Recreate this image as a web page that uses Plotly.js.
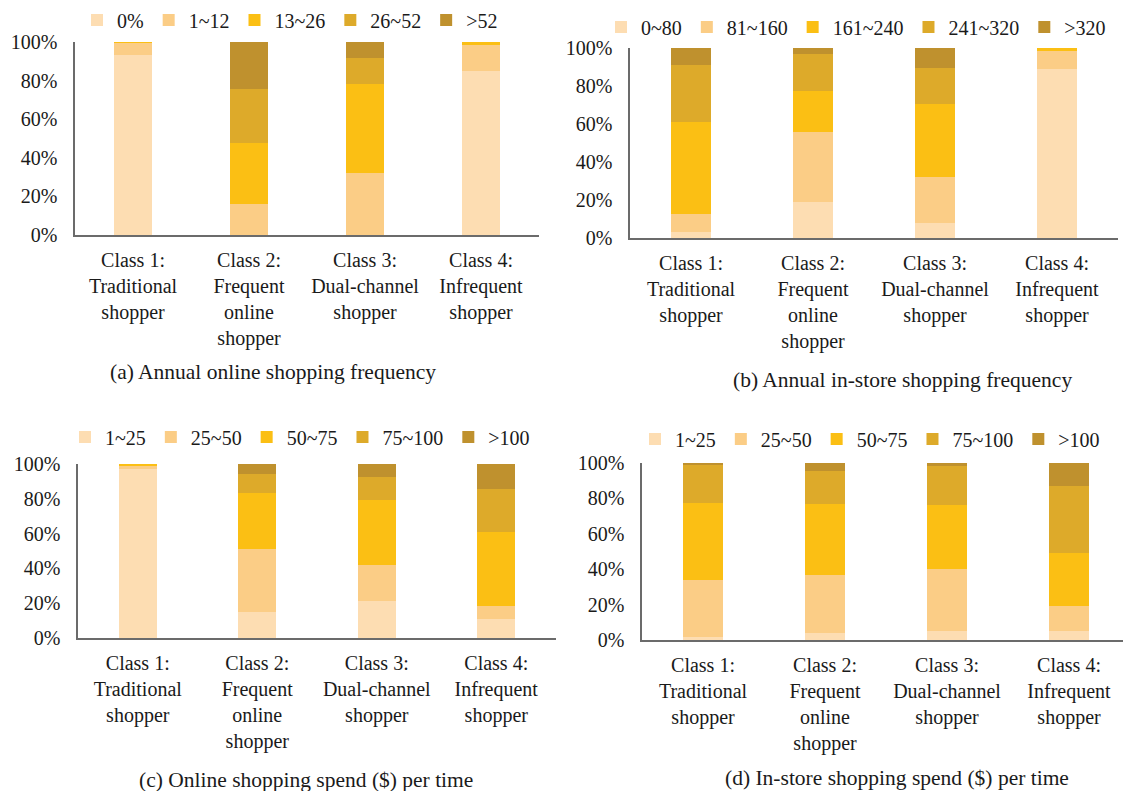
<!DOCTYPE html>
<html>
<head>
<meta charset="utf-8">
<script src="https://cdn.plot.ly/plotly-3.0.1.min.js"></script>
<style>
  html, body { margin: 0; padding: 0; background: #fff; }
  #chart { width: 1123px; height: 791px; }
</style>
</head>
<body>
<div id="chart"></div>
<script>
// Shopper classes shown on every panel
const classLabels = [
  'Class 1:<br>Traditional<br>shopper',
  'Class 2:<br>Frequent<br>online<br>shopper',
  'Class 3:<br>Dual-channel<br>shopper',
  'Class 4:<br>Infrequent<br>shopper'
];

// (a) Annual online shopping frequency, share of each class (%)
const onlineFreqBins = ['0%', '1~12', '13~26', '26~52', '>52'];
const onlineFreq_0     = [93.5, 0.0, 0.0, 84.9];
const onlineFreq_1_12  = [5.8, 16.0, 32.2, 13.7];
const onlineFreq_13_26 = [0.7, 31.8, 45.8, 1.4];
const onlineFreq_26_52 = [0.0, 28.1, 13.7, 0.0];
const onlineFreq_gt52  = [0.0, 24.1, 8.3, 0.0];

// (b) Annual in-store shopping frequency (%)
const storeFreqBins = ['0~80', '81~160', '161~240', '241~320', '>320'];
const storeFreq_0_80    = [3.0, 19.1, 7.7, 89.1];
const storeFreq_81_160  = [9.6, 36.5, 24.2, 9.1];
const storeFreq_161_240 = [48.4, 21.8, 38.8, 1.8];
const storeFreq_241_320 = [29.9, 19.6, 18.6, 0.0];
const storeFreq_gt320   = [9.1, 3.0, 10.7, 0.0];

// (c) Online shopping spend ($) per time (%)
const spendBins = ['1~25', '25~50', '50~75', '75~100', '>100'];
const onlineSpend_1_25   = [97.1, 15.1, 21.4, 11.1];
const onlineSpend_25_50  = [1.8, 36.0, 20.6, 7.4];
const onlineSpend_50_75  = [1.1, 32.3, 37.2, 42.2];
const onlineSpend_75_100 = [0.0, 10.7, 13.2, 24.8];
const onlineSpend_gt100  = [0.0, 5.9, 7.6, 14.5];

// (d) In-store shopping spend ($) per time (%)
const storeSpend_1_25   = [1.5, 3.9, 5.1, 4.9];
const storeSpend_25_50  = [32.3, 32.6, 35.1, 14.1];
const storeSpend_50_75  = [43.8, 40.6, 36.3, 30.2];
const storeSpend_75_100 = [21.1, 18.4, 21.6, 37.8];
const storeSpend_gt100  = [1.3, 4.5, 1.9, 13.0];

const panelCaptions = [
  '(a) Annual online shopping frequency',
  '(b) Annual in-store shopping frequency',
  '(c) Online shopping spend ($) per time',
  '(d) In-store shopping spend ($) per time'
];

// Five-step palette from pale peach to dark gold
const binColors = ['#FDDDB2', '#FBCD86', '#FBBF14', '#DDAA2A', '#BF912E'];

const W = 1123, H = 791;
const px = x => x / W;
const py = y => 1 - y / H;
const FONT = 'Liberation Serif, Times New Roman, serif';

const panels = [
  { bins: onlineFreqBins, series: [onlineFreq_0, onlineFreq_1_12, onlineFreq_13_26, onlineFreq_26_52, onlineFreq_gt52] },
  { bins: storeFreqBins,  series: [storeFreq_0_80, storeFreq_81_160, storeFreq_161_240, storeFreq_241_320, storeFreq_gt320] },
  { bins: spendBins,      series: [onlineSpend_1_25, onlineSpend_25_50, onlineSpend_50_75, onlineSpend_75_100, onlineSpend_gt100] },
  { bins: spendBins,      series: [storeSpend_1_25, storeSpend_25_50, storeSpend_50_75, storeSpend_75_100, storeSpend_gt100] }
];

// Plot-area boxes in page pixels: [left, right, top, bottom]; the last panel's
// axis runs off the right edge of the page, so its range is trimmed to fit.
const boxes = [
  [75, 539, 42, 235],
  [630, 1118, 48, 238],
  [78, 556, 464, 638],
  [642, 1130, 463, 640]
];
const legendPos = [[290, 20], [856, 27], [300, 437], [870, 439]];
const captionPos = [[273, 372], [902, 380], [306, 780], [897, 778]];

const traces = [];
const layout = {
  width: W, height: H,
  margin: { l: 0, r: 0, t: 0, b: 0 },
  paper_bgcolor: '#fff', plot_bgcolor: '#fff',
  barmode: 'stack',
  bargap: 0.68,
  font: { family: FONT, size: 20, color: '#1a1a1a' },
  annotations: []
};

panels.forEach((p, i) => {
  const n = i === 0 ? '' : String(i + 1);
  const legendId = 'legend' + n;
  p.series.forEach((vals, k) => {
    traces.push({
      type: 'bar',
      x: classLabels,
      y: vals,
      name: p.bins[k],
      marker: { color: binColors[k], line: { width: 0 } },
      xaxis: 'x' + n,
      yaxis: 'y' + n,
      legend: legendId,
      hoverinfo: 'name+y'
    });
  });
  const b = boxes[i];
  const right = Math.min(b[1], W);
  const span = 4 * (right - b[0]) / (b[1] - b[0]);
  layout['xaxis' + n] = {
    domain: [px(b[0]), px(right)],
    anchor: 'y' + n,
    type: 'category',
    range: [-0.5, -0.5 + span],
    showline: true, linecolor: '#6b6b6b', linewidth: 1.6,
    showgrid: false, zeroline: false, ticks: '',
    ticklabelstandoff: 6,
    tickfont: { family: FONT, size: 20, color: '#1a1a1a' },
    fixedrange: true
  };
  layout['yaxis' + n] = {
    domain: [py(b[3]), py(b[2])],
    anchor: 'x' + n,
    range: [0, 100],
    dtick: 20, ticksuffix: '%',
    showline: true, linecolor: '#6b6b6b', linewidth: 1.6,
    showgrid: false, zeroline: false, ticks: '',
    ticklabelstandoff: 12,
    tickfont: { family: FONT, size: 20, color: '#1a1a1a' },
    fixedrange: true
  };
  layout[legendId] = {
    orientation: 'h',
    x: px(legendPos[i][0]), y: py(legendPos[i][1]),
    xanchor: 'center', yanchor: 'middle',
    xref: 'paper', yref: 'paper',
    traceorder: 'normal',
    font: { family: FONT, size: 20, color: '#1a1a1a' },
    bgcolor: 'rgba(0,0,0,0)'
  };
  layout.annotations.push({
    text: panelCaptions[i],
    xref: 'paper', yref: 'paper',
    x: px(captionPos[i][0]), y: py(captionPos[i][1]),
    xanchor: 'center', yanchor: 'middle',
    showarrow: false,
    font: { family: FONT, size: 21.5, color: '#1a1a1a' }
  });
});

Plotly.newPlot('chart', traces, layout, { displayModeBar: false, staticPlot: true });
</script>
</body>
</html>
